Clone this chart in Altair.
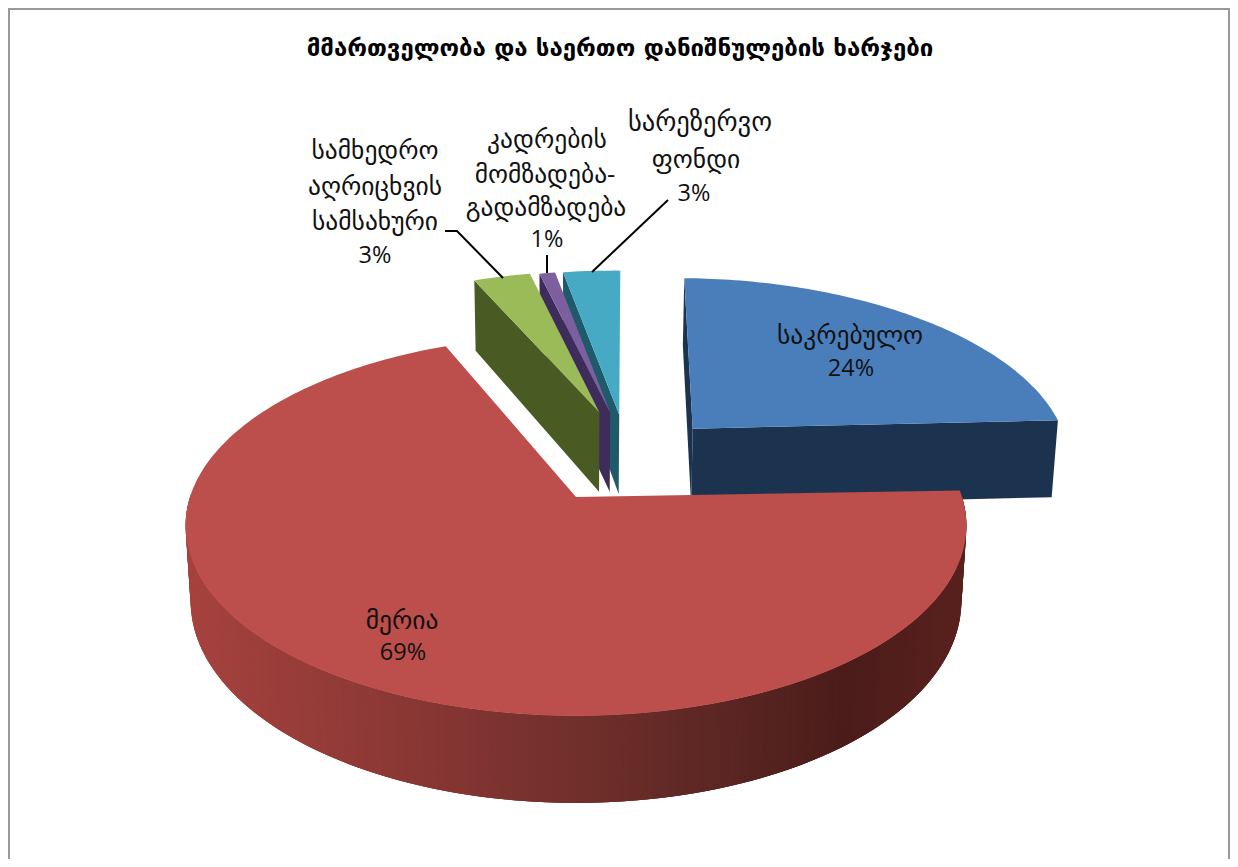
import math
import altair as alt
import pandas as pd

TITLE = "მმართველობა და საერთო დანიშნულების ხარჯები"
# drawing order is back to front; shares in percent, clockwise from the right-hand side
names = ["მერია", "სამხედრო აღრიცხვის სამსახური", "კადრების მომზადება-გადამზადება", "სარეზერვო ფონდი", "საკრებულო"]
shares = [69.28, 2.9, 0.8, 2.9, 23.9]
top_colors = ["#BC4E4B", "#9BBB59", "#7D5FA0", "#46AAC5", "#4A7EBB"]
wall_colors = ["#7D302D", "#4A5A23", "#3E2D5A", "#1F5A6B", "#1C3350"]
explode_u = [0, 0.065, 0.095, 0.12, 0.32]
explode_v = [0, -0.487, -0.487, -0.474, -0.389]
radius_u = [1, 1, 1, 1, 1.012]
radius_v = [1, 1, 1, 1.015, 1.04]
depth = [74, 85, 85, 85, 82]

CX, CY, R, RY, K, ROT, LEAN = 576, 497, 386, 186, 0.15, -2, 0.987


def project(i, deg, low=False, tip=False):
    a = math.radians(deg)
    u = explode_u[i] + (0 if tip else radius_u[i] * math.cos(a))
    v = explode_v[i] + (0 if tip else radius_v[i] * math.sin(a))
    s = 1 / (1 - K * v)
    x, y = R * u * s, RY * v * s
    if low:
        x *= LEAN
        y += depth[i] * s
    return CX + x, CY + y


ranges, acc = [], ROT
for p in shares:
    ranges.append((acc, acc + p * 3.6))
    acc += p * 3.6

stops = [(190, (166, 66, 62)), (400, (140, 56, 53)), (575, (115, 48, 44)), (700, (95, 40, 37)), (850, (75, 28, 26)), (970, (90, 33, 30))]


def shade(x):
    for (x0, c0), (x1, c1) in zip(stops, stops[1:]):
        if x <= x1:
            t = max(0, (x - x0) / (x1 - x0))
            return "#%02x%02x%02x" % tuple(round(a + (b - a) * t) for a, b in zip(c0, c1))
    return "#%02x%02x%02x" % stops[-1][1]


rows, pid = [], 0


def poly(points, color):
    global pid
    pid += 1
    for n, (x, y) in enumerate(points):
        rows.append({"pid": f"p{pid:04d}", "x": x, "y": y, "n": n, "c": color})


def wedge(i):
    a0, a1 = ranges[i]
    steps = max(2, int(a1 - a0))
    pts = [project(i, 0, tip=True)]
    pts += [project(i, a0 + (a1 - a0) * k / steps) for k in range(steps + 1)]
    poly(pts, top_colors[i])


def cut_wall(i, deg):
    poly([project(i, 0, tip=True), project(i, deg), project(i, deg, low=True), project(i, 0, low=True, tip=True)], wall_colors[i])


# small slices, right to left so that each one sits over its neighbour's wall
for i in (3, 2, 1):
    cut_wall(i, ranges[i][0])
    wedge(i)
# blue slice: only the wall towards the viewer and the thin left cut show
cut_wall(4, ranges[4][0])
cut_wall(4, ranges[4][1])
wedge(4)
# big slice: rim strips overlapping their neighbours, then the top face
for d in range(178, int(ranges[0][0]) - 1, -1):
    pts = [project(0, d), project(0, d + 3), project(0, d + 3, low=True), project(0, d, low=True)]
    poly(pts, shade(sum(p[0] for p in pts) / 4))
wedge(0)

df = pd.DataFrame(rows)
xs = alt.Scale(domain=[8, 1230], nice=False, zero=False)
ys = alt.Scale(domain=[859, 8], nice=False, zero=False)
X = alt.X("x:Q", scale=xs, axis=None)
Y = alt.Y("y:Q", scale=ys, axis=None)

shapes = alt.Chart(df).mark_line(filled=True, strokeWidth=0, interpolate="linear").encode(
    x=X, y=Y, order="n:Q", detail="pid:N",
    fill=alt.Fill("c:N", scale=None),
)

line_text = [
    "საკრებულო", "24%", "მერია", "69%",
    "სამხედრო", "აღრიცხვის", "სამსახური", "3%",
    "კადრების", "მომზადება-", "გადამზადება", "1%",
    "სარეზერვო", "ფონდი", "3%",
]
line_x = [850, 851, 402, 403, 375, 375, 375, 375, 547, 545, 546, 547, 700, 696, 694]
line_y = [336, 369, 621, 653, 151, 187, 222, 256, 140, 175, 208, 240, 123, 160, 194]
line_size = [25.5, 23.5, 25.5, 23.5, 25.5, 25.5, 25.5, 23.5, 25.5, 25.5, 25.5, 23.5, 26.5, 25.5, 23.5]
labels = alt.Chart(pd.DataFrame({"t": line_text, "x": line_x, "y": line_y, "s": line_size})).mark_text(
    font='"Open Sans", "DejaVu Sans"', color="#111111", align="center", baseline="middle"
).encode(x=X, y=Y, text="t:N", size=alt.Size("s:Q", scale=None))

title = alt.Chart(pd.DataFrame({"t": [TITLE], "x": [620], "y": [49]})).mark_text(
    font='"DejaVu Sans"', fontSize=24, fontWeight="bold", color="#000000", align="center", baseline="middle"
).encode(x=X, y=Y, text="t:N")

leader_id = ["a", "a", "a", "b", "b", "c", "c"]
leader_x = [445, 457, 503, 547, 547, 668, 592]
leader_y = [231, 231, 278, 255, 273, 200, 272]
leaders = alt.Chart(pd.DataFrame({"id": leader_id, "x": leader_x, "y": leader_y, "n": range(7)})).mark_line(
    color="#000000", strokeWidth=2
).encode(x=X, y=Y, order="n:Q", detail="id:N")

frame_id = ["f"] * 4
frame_x = [9, 9, 1229, 1229]
frame_y = [859, 9, 9, 859]
frame = alt.Chart(pd.DataFrame({"id": frame_id, "x": frame_x, "y": frame_y, "n": range(4)})).mark_line(
    color="#999999", strokeWidth=2
).encode(x=X, y=Y, order="n:Q", detail="id:N")

chart = alt.layer(frame, shapes, leaders, labels, title).properties(
    width=1222, height=851,
    padding={"left": 0, "right": 0, "top": 0, "bottom": 0},
    autosize=alt.AutoSizeParams(type="none", contains="padding"),
).configure(background="#ffffff", view=alt.ViewConfig(stroke=None))

chart.save("out.html", embed_options={"renderer": "svg", "actions": False})
